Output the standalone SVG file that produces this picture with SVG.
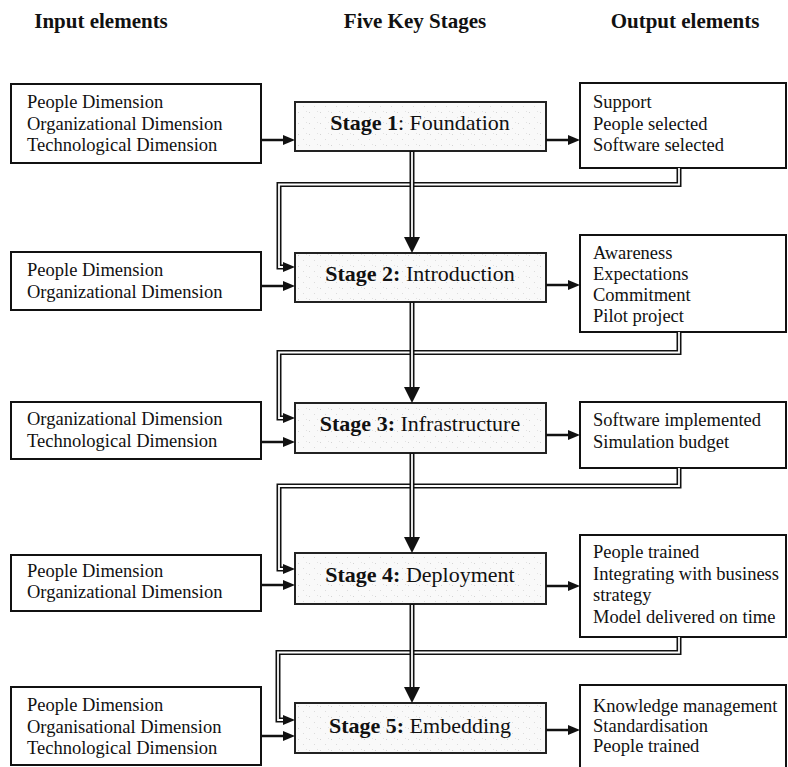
<svg xmlns="http://www.w3.org/2000/svg" width="788" height="767" viewBox="0 0 788 767">
  <style>
    .hdr { font-family: "Liberation Serif", "Times New Roman", serif; font-size: 21px; font-weight: bold; fill: #111; text-anchor: middle; }
    .txt { font-family: "Liberation Serif", "Times New Roman", serif; font-size: 18.5px; fill: #111; }
    .stg { font-family: "Liberation Serif", "Times New Roman", serif; font-size: 22px; fill: #111; text-anchor: middle; }
    .stg .b { font-weight: bold; }
    .box { fill: #fff; stroke: #111; stroke-width: 2; }
    .stage { fill: url(#speckle); stroke: #222; stroke-width: 2; }
    .single { fill: none; stroke: #111; stroke-width: 2.5; marker-end: url(#head); }
    .dbl-out { fill: none; stroke: #111; stroke-width: 5; stroke-linejoin: miter; }
    .dbl-in { fill: none; stroke: #fff; stroke-width: 1.8; stroke-linejoin: miter; }
    .fb { marker-end: url(#head); }
    .down { marker-end: url(#headBig); }
  </style>
  <defs>
    <pattern id="speckle" width="11" height="11" patternUnits="userSpaceOnUse">
      <rect width="11" height="11" fill="#f9f9f9"/>
      <rect x="1" y="2" width="1" height="1" fill="#d4d4d4"/>
      <rect x="6" y="7" width="1" height="1" fill="#dcdcdc"/>
      <rect x="9" y="1" width="1" height="1" fill="#e2e2e2"/>
    </pattern>
    <marker id="head" markerUnits="userSpaceOnUse" markerWidth="12" markerHeight="10" refX="0" refY="5" orient="auto">
      <path d="M0,0 L12,5 L0,10 z" fill="#111"/>
    </marker>
    <marker id="headBig" markerUnits="userSpaceOnUse" markerWidth="16" markerHeight="16" refX="0" refY="8" orient="auto">
      <path d="M0,0 L16,8 L0,16 z" fill="#111"/>
    </marker>
  </defs>

  <!-- column headings -->
  <g id="headings">
    <text class="hdr" x="101" y="28">Input elements</text>
    <text class="hdr" x="415" y="28">Five Key Stages</text>
    <text class="hdr" x="685" y="28">Output elements</text>
  </g>

  <!-- input element boxes -->
  <g id="input1">
    <rect class="box" x="11" y="84" width="250" height="79"/>
    <text class="txt" x="27" y="108">People Dimension</text>
    <text class="txt" x="27" y="130">Organizational Dimension</text>
    <text class="txt" x="27" y="151">Technological Dimension</text>
  </g>
  <g id="input2">
    <rect class="box" x="11" y="252" width="250" height="58"/>
    <text class="txt" x="27" y="276">People Dimension</text>
    <text class="txt" x="27" y="298">Organizational Dimension</text>
  </g>
  <g id="input3">
    <rect class="box" x="11" y="402" width="250" height="57"/>
    <text class="txt" x="27" y="425">Organizational Dimension</text>
    <text class="txt" x="27" y="447">Technological Dimension</text>
  </g>
  <g id="input4">
    <rect class="box" x="11" y="555" width="250" height="56"/>
    <text class="txt" x="27" y="577">People Dimension</text>
    <text class="txt" x="27" y="598">Organizational Dimension</text>
  </g>
  <g id="input5">
    <rect class="box" x="11" y="687" width="250" height="78"/>
    <text class="txt" x="27" y="711">People Dimension</text>
    <text class="txt" x="27" y="733">Organisational Dimension</text>
    <text class="txt" x="27" y="754">Technological Dimension</text>
  </g>

  <!-- stage boxes -->
  <g id="stage1">
    <rect class="stage" x="295" y="102" width="251" height="49"/>
    <text class="stg" x="420" y="130"><tspan class="b">Stage 1</tspan>: Foundation</text>
  </g>
  <g id="stage2">
    <rect class="stage" x="295" y="253" width="251" height="49"/>
    <text class="stg" x="420" y="281"><tspan class="b">Stage 2:</tspan> Introduction</text>
  </g>
  <g id="stage3">
    <rect class="stage" x="295" y="403" width="251" height="50"/>
    <text class="stg" x="420" y="431"><tspan class="b">Stage 3:</tspan> Infrastructure</text>
  </g>
  <g id="stage4">
    <rect class="stage" x="295" y="553" width="251" height="51"/>
    <text class="stg" x="420" y="582"><tspan class="b">Stage 4:</tspan> Deployment</text>
  </g>
  <g id="stage5">
    <rect class="stage" x="295" y="703" width="251" height="50"/>
    <text class="stg" x="420" y="733"><tspan class="b">Stage 5:</tspan> Embedding</text>
  </g>

  <!-- output element boxes -->
  <g id="output1">
    <rect class="box" x="580" y="83" width="206" height="85"/>
    <text class="txt" x="593" y="108">Support</text>
    <text class="txt" x="593" y="130">People selected</text>
    <text class="txt" x="593" y="151">Software selected</text>
  </g>
  <g id="output2">
    <rect class="box" x="580" y="235" width="206" height="97"/>
    <text class="txt" x="593" y="259">Awareness</text>
    <text class="txt" x="593" y="280">Expectations</text>
    <text class="txt" x="593" y="301">Commitment</text>
    <text class="txt" x="593" y="322">Pilot project</text>
  </g>
  <g id="output3">
    <rect class="box" x="580" y="402" width="206" height="66"/>
    <text class="txt" x="593" y="426">Software implemented</text>
    <text class="txt" x="593" y="448">Simulation budget</text>
  </g>
  <g id="output4">
    <rect class="box" x="580" y="535" width="206" height="102"/>
    <text class="txt" x="593" y="558">People trained</text>
    <text class="txt" x="593" y="580">Integrating with business</text>
    <text class="txt" x="593" y="601">strategy</text>
    <text class="txt" x="593" y="623">Model delivered on time</text>
  </g>
  <g id="output5">
    <rect class="box" x="580" y="685" width="206" height="92"/>
    <text class="txt" x="593" y="712">Knowledge management</text>
    <text class="txt" x="593" y="732">Standardisation</text>
    <text class="txt" x="593" y="752">People trained</text>
  </g>

  <!-- connectors -->
  <g id="connectors">
    <!-- inputs into stages -->
    <path class="single" d="M261,140 H283"/>
    <path class="single" d="M261,286 H283"/>
    <path class="single" d="M261,442 H283"/>
    <path class="single" d="M261,585 H283"/>
    <path class="single" d="M261,736 H283"/>
    <!-- stages to outputs -->
    <path class="single" d="M546,140 H568"/>
    <path class="single" d="M546,285 H568"/>
    <path class="single" d="M546,435 H568"/>
    <path class="single" d="M546,586 H568"/>
    <path class="single" d="M546,730 H568"/>
    <!-- outputs fed back into the next stage (double line) -->
    <path class="dbl-out fb" d="M679,168 V184.5 H279 V267 H283"/>
    <path class="dbl-in" d="M679,168 V184.5 H279 V267 H283"/>
    <path class="dbl-out fb" d="M679,332 V352.5 H279 V418 H283"/>
    <path class="dbl-in" d="M679,332 V352.5 H279 V418 H283"/>
    <path class="dbl-out fb" d="M679,468 V486 H279 V569 H283"/>
    <path class="dbl-in" d="M679,468 V486 H279 V569 H283"/>
    <path class="dbl-out fb" d="M679,637 V652.5 H278 V720 H283"/>
    <path class="dbl-in" d="M679,637 V652.5 H278 V720 H283"/>
    <!-- stage to stage (double line) -->
    <path class="dbl-out down" d="M412,151 V237"/>
    <path class="dbl-in" d="M412,152 V237"/>
    <path class="dbl-out down" d="M412,302 V387"/>
    <path class="dbl-in" d="M412,303 V387"/>
    <path class="dbl-out down" d="M412,453 V537"/>
    <path class="dbl-in" d="M412,454 V537"/>
    <path class="dbl-out down" d="M412,604 V687"/>
    <path class="dbl-in" d="M412,605 V687"/>
  </g>
</svg>
